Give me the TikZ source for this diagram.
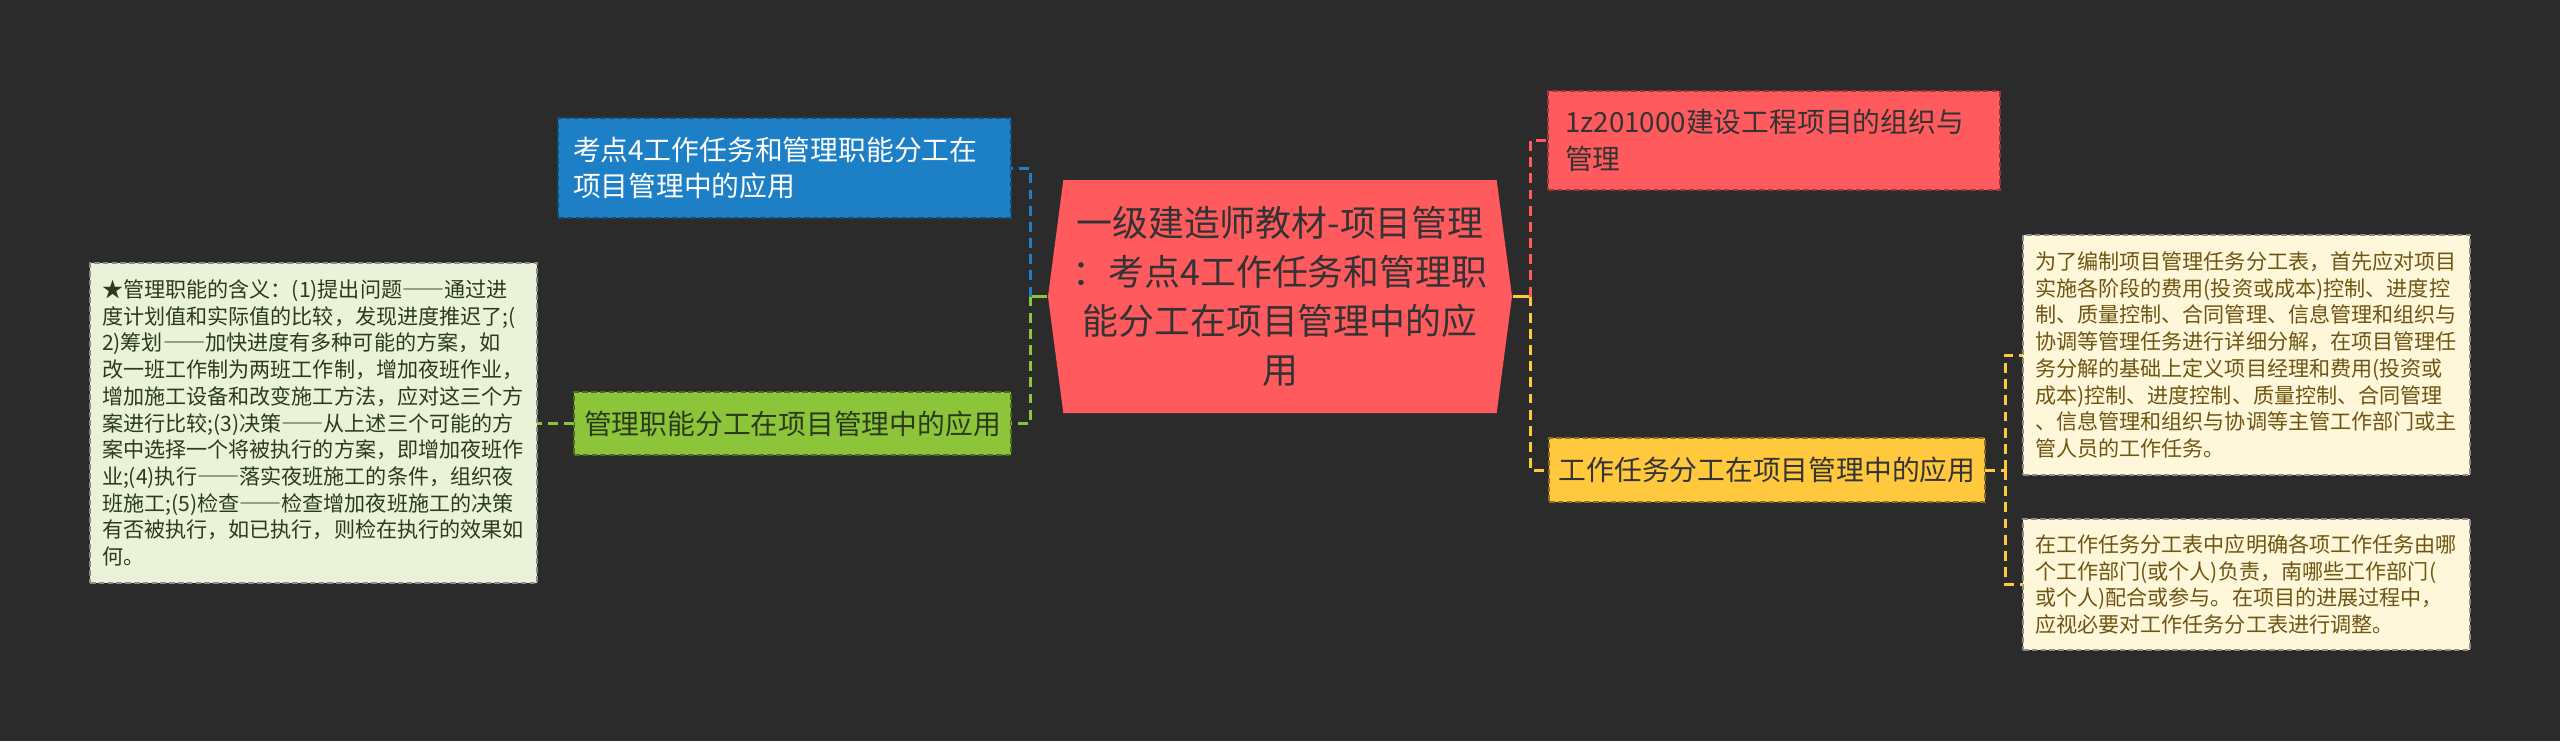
\documentclass[tikz,border=0pt]{standalone}
\usepackage{fontspec}
\setmainfont{Noto Sans CJK SC}
\usetikzlibrary{shapes.symbols}

\newlength\px
\setlength\px{0.01cm}
\newcommand\longdash{{\addfontfeature{RawFeature=+fwid}——}}

\definecolor{bgdark}{HTML}{2B2B2B}
\definecolor{topicred}{HTML}{FF5A5E}
\definecolor{topicblue}{HTML}{1D80C6}
\definecolor{topicgreen}{HTML}{8CC53A}
\definecolor{topicyellow}{HTML}{FFC83D}
\definecolor{notegreen}{HTML}{EAF3DA}
\definecolor{noteyellow}{HTML}{FFF7DA}
\definecolor{inkdark}{HTML}{333333}
\definecolor{inkgreen}{HTML}{2C3A1C}
\definecolor{inkbrown}{HTML}{6E5512}

\tikzset{
  box/.style={anchor=north west, inner ysep=0pt, outer sep=0pt, line width=0.45pt,
    dash pattern=on 1.6pt off 0.9pt},
  branch/.style={box, font=\fontsize{7.9pt}{10.5pt}\selectfont},
  note/.style={box, draw=black!45, inner xsep=12\px, text width=423\px, align=left,
    font=\fontsize{6pt}{7.6pt}\selectfont},
  link/.style={line width=0.85pt, dash pattern=on 2.8pt off 1.8pt},
}

\begin{document}
\begin{tikzpicture}[x=0.01cm,y=-0.01cm]
      \fill[bgdark] (0,0) rectangle (2560,741);
      \useasboundingbox (0,0) rectangle (2560,741);

      % main topic
      \node[signal, signal to=west and east, signal pointer angle=165, fill=topicred,
        text=inkdark, minimum width=464\px, minimum height=233\px, inner sep=0pt,
        align=center, font=\fontsize{10.2pt}{13.9pt}\selectfont] (main) at (1280,296.5)
        {一级建造师教材-项目管理\\：考点4工作任务和管理职\\能分工在项目管理中的应\\用};

      % left side
      \node[branch, draw=topicblue!60!black, fill=topicblue, text=white, minimum width=453\px,
        minimum height=100\px, inner xsep=15\px, text width=423\px, align=left] (duty) at (558,118)
        {考点4工作任务和管理职能分工在\\项目管理中的应用};
      \node[branch, draw=topicgreen!55!black, fill=topicgreen, text=inkgreen, minimum width=437\px,
        minimum height=63\px, inner xsep=0pt, align=center] (mgmt) at (574,392)
        {管理职能分工在项目管理中的应用};
      \node[note, fill=notegreen, text=inkgreen, minimum width=447\px, minimum height=320\px] (meaning) at (90,263)
        {★管理职能的含义：(1)提出问题\longdash 通过进\\度计划值和实际值的比较，发现进度推迟了;(\\2)筹划\longdash 加快进度有多种可能的方案，如\\改一班工作制为两班工作制，增加夜班作业，\\增加施工设备和改变施工方法，应对这三个方\\案进行比较;(3)决策\longdash 从上述三个可能的方\\案中选择一个将被执行的方案，即增加夜班作\\业;(4)执行\longdash 落实夜班施工的条件，组织夜\\班施工;(5)检查\longdash 检查增加夜班施工的决策\\有否被执行，如已执行，则检在执行的效果如\\何。};

      % right side
      \node[branch, draw=topicred!60!black, fill=topicred, text=inkdark, minimum width=452\px,
        minimum height=99\px, inner xsep=17\px, text width=418\px, align=left] (chapter) at (1548,91)
        {1z201000建设工程项目的组织与\\管理};
      \node[branch, draw=topicyellow!55!black, fill=topicyellow, text=inkdark, minimum width=436\px,
        minimum height=64\px, inner xsep=0pt, align=center] (task) at (1549,438)
        {工作任务分工在项目管理中的应用};
      \node[note, fill=noteyellow, text=inkbrown, minimum width=447\px, minimum height=240\px] (table) at (2023,235)
        {为了编制项目管理任务分工表，首先应对项目\\实施各阶段的费用(投资或成本)控制、进度控\\制、质量控制、合同管理、信息管理和组织与\\协调等管理任务进行详细分解，在项目管理任\\务分解的基础上定义项目经理和费用(投资或\\成本)控制、进度控制、质量控制、合同管理\\、信息管理和组织与协调等主管工作部门或主\\管人员的工作任务。};
      \node[note, fill=noteyellow, text=inkbrown, minimum width=447\px, minimum height=131\px] (adjust) at (2023,519)
        {在工作任务分工表中应明确各项工作任务由哪\\个工作部门(或个人)负责，南哪些工作部门(\\或个人)配合或参与。在项目的进展过程中，\\应视必要对工作任务分工表进行调整。};

      \coordinate (jleft) at (1030,296.5);
      \coordinate (jright) at (1530,296.5);
      \coordinate (jtask) at (2005,470);

      \draw[topicgreen, line width=0.85pt] (main.west) -- (jleft);
      \draw[link, topicblue] (jleft) |- (duty.east);
      \draw[link, topicgreen] (jleft) |- (mgmt.east);
      \draw[link, topicgreen] (mgmt.west) -- (mgmt.west -| meaning.east);

      \draw[topicyellow, line width=0.85pt] (main.east) -- (jright);
      \draw[link, topicred] (jright) |- (chapter.west);
      \draw[link, topicyellow] (jright) |- (task.west);
      \draw[link, topicyellow] (task.east) -- (jtask);
      \draw[link, topicyellow] (jtask) |- (table.west);
      \draw[link, topicyellow] (jtask) |- (adjust.west);
    \end{tikzpicture}
\end{document}
